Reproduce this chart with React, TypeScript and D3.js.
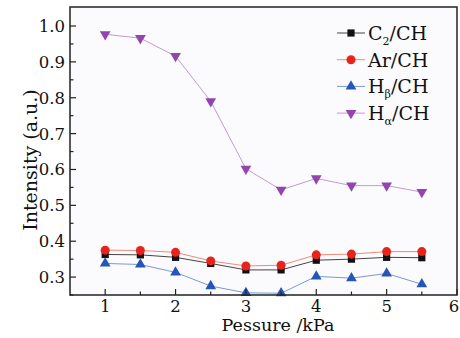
import { scaleLinear, line as d3Line, symbol, symbolSquare, symbolCircle, symbolTriangle, range } from "d3";

const pressures = [1, 1.5, 2, 2.5, 3, 3.5, 4, 4.5, 5, 5.5];
const c2 = [0.363, 0.362, 0.355, 0.338, 0.32, 0.32, 0.347, 0.35, 0.355, 0.354];
const ar = [0.375, 0.374, 0.369, 0.345, 0.331, 0.333, 0.362, 0.364, 0.371, 0.371];
const hBeta = [0.338, 0.335, 0.313, 0.275, 0.256, 0.255, 0.302, 0.297, 0.31, 0.28];
const hAlpha = [0.977, 0.966, 0.916, 0.79, 0.602, 0.543, 0.575, 0.555, 0.555, 0.537];
const xTicks = [1, 2, 3, 4, 5, 6];
const yTicks = [0.3, 0.4, 0.5, 0.6, 0.7, 0.8, 0.9, 1.0];

const series = [
  { name: "C", sub: "2", values: c2, color: "#111111", lineColor: "#444444", marker: "square" },
  { name: "Ar", sub: "", values: ar, color: "#e8231c", lineColor: "#f08a78", marker: "circle" },
  { name: "H", sub: "β", values: hBeta, color: "#2456b8", lineColor: "#7a98d8", marker: "up" },
  { name: "H", sub: "α", values: hAlpha, color: "#9344ad", lineColor: "#c49ad4", marker: "down" },
];

const FONT = "'DejaVu Serif', 'Liberation Serif', serif";

function Marker({ kind, color, x, y }: { kind: string; color: string; x: number; y: number }) {
  if (kind === "square") {
    return <path d={symbol(symbolSquare, 52)()!} fill={color} transform={`translate(${x},${y})`} />;
  }
  if (kind === "circle") {
    return <path d={symbol(symbolCircle, 64)()!} fill={color} transform={`translate(${x},${y})`} />;
  }
  const rot = kind === "down" ? 180 : 0;
  return (
    <path d={symbol(symbolTriangle, 50)()!} fill={color} transform={`translate(${x},${y}) rotate(${rot})`} />
  );
}

export default function App() {
  const margin = { left: 70, top: 7, right: 3, bottom: 43 };
  const W = 460;
  const H = 338;
  const x = scaleLinear().domain([0.5, 6]).range([margin.left, W - margin.right]);
  const y = scaleLinear().domain([0.25, 1.053]).range([H - margin.bottom, margin.top]);
  const x0 = x(0.5);
  const x1 = x(6);
  const yb = y(0.25);
  const yt = y(1.053);
  const xMinor = range(1.5, 6, 1);
  const yMinor = range(0.25, 1.05, 0.1);

  const lineGen = d3Line<number>()
    .x((_, i) => x(pressures[i]))
    .y((d) => y(d));

  return (
    <svg width={W} height={H} style={{ position: "absolute", left: 0, top: 0, background: "#fff" }}>
      <rect x={x0} y={yt} width={x1 - x0} height={yb - yt} fill="#fbfbfd" />
      {series.map((s, si) => (
        <g key={si}>
          <path d={lineGen(s.values)!} fill="none" stroke={s.lineColor} strokeWidth={1} />
          {s.values.map((v, i) => (
            <Marker key={i} kind={s.marker} color={s.color} x={x(pressures[i])} y={y(v)} />
          ))}
        </g>
      ))}
      <rect x={x0} y={yt} width={x1 - x0} height={yb - yt} fill="none" stroke="#222" strokeWidth={1.5} />
      {xTicks.map((t) => (
        <g key={t}>
          <line x1={x(t)} x2={x(t)} y1={yb} y2={yb - 6} stroke="#222" strokeWidth={1.2} />
          <text x={Math.min(x(t), 454)} y={yb + 16.5} textAnchor="middle" fontFamily={FONT} fontSize={16.5} fill="#111">
            {t}
          </text>
        </g>
      ))}
      {xMinor.map((t) => (
        <line key={t} x1={x(t)} x2={x(t)} y1={yb} y2={yb - 3.5} stroke="#222" strokeWidth={1.2} />
      ))}
      {yTicks.map((t) => (
        <g key={t}>
          <line x1={x0} x2={x0 + 6} y1={y(t)} y2={y(t)} stroke="#222" strokeWidth={1.2} />
          <text x={x0 - 5} y={y(t) + 6} textAnchor="end" fontFamily={FONT} fontSize={16.5} fill="#111">
            {t.toFixed(1)}
          </text>
        </g>
      ))}
      {yMinor.map((t) => (
        <line key={t} x1={x0} x2={x0 + 3.5} y1={y(t)} y2={y(t)} stroke="#222" strokeWidth={1.2} />
      ))}
      <text x={278} y={331} textAnchor="middle" fontFamily={FONT} fontSize={17.5} fill="#111">
        Pessure /kPa
      </text>
      <text
        transform={`translate(37,160) rotate(-90)`}
        textAnchor="middle"
        fontFamily={FONT}
        fontSize={19}
        fill="#111"
      >
        Intensity (a.u.)
      </text>
      {series.map((s, si) => {
        const ly = 33 + si * 26.7;
        return (
          <g key={si}>
            <line x1={337} x2={365} y1={ly} y2={ly} stroke={s.lineColor} strokeWidth={1} />
            <Marker kind={s.marker} color={s.color} x={351} y={ly} />
            <text x={368} y={ly + 7} fontFamily={FONT} fontSize={19} fill="#111">
              {s.name}
              {s.sub && (
                <tspan fontSize={11} dy={5}>
                  {s.sub}
                </tspan>
              )}
              <tspan dy={s.sub ? -5 : 0}>/CH</tspan>
            </text>
          </g>
        );
      })}
    </svg>
  );
}
